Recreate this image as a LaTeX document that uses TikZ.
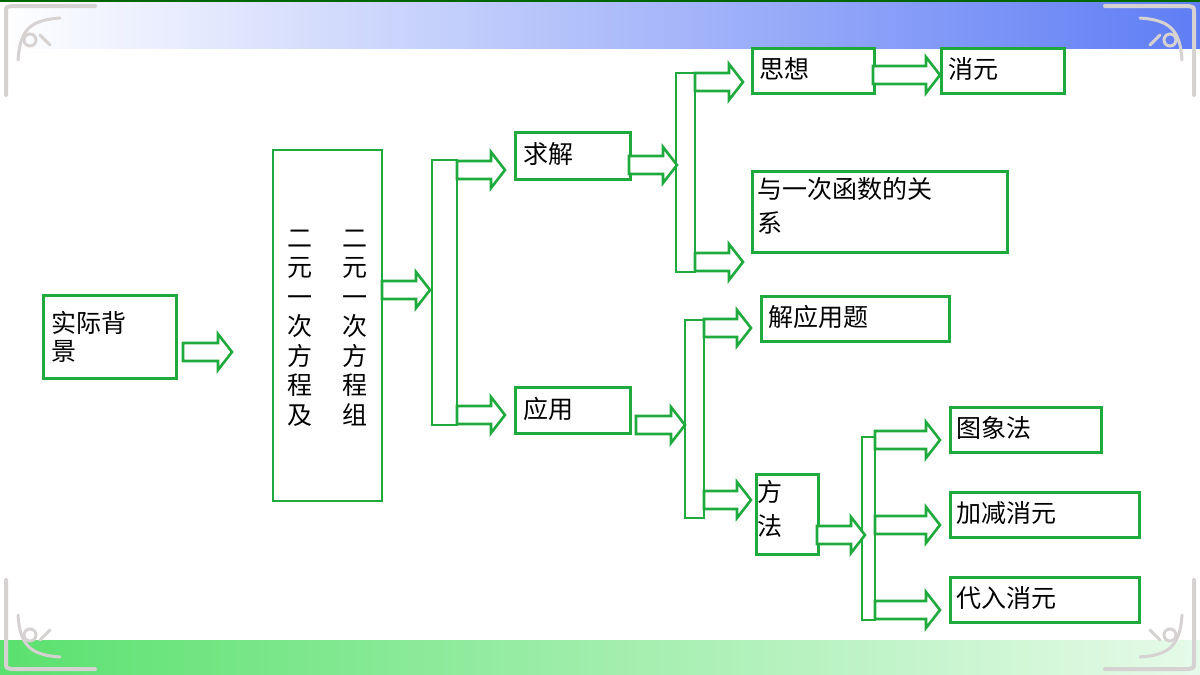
\documentclass[tikz,border=0pt]{standalone}
\usepackage{fontspec}
\setmainfont{Noto Sans CJK SC}
\usetikzlibrary{calc}
\definecolor{boxgreen}{RGB}{30,170,60}
\definecolor{bandblue}{RGB}{95,125,245}
\definecolor{bandgreen}{RGB}{90,225,110}
\definecolor{ornament}{RGB}{215,210,210}
\tikzset{
  box/.style={draw=boxgreen,line width=2.6pt,anchor=north west,inner sep=8pt,
    align=left,font=\fontsize{25}{30}\selectfont},
  txt/.style={font=\fontsize{25}{30}\selectfont,anchor=west},
  bracket/.style={draw=boxgreen,line width=2.6pt},
  orn/.style={draw=ornament,line width=4pt,line cap=round}
}
% hollow block arrow: x1, x2, y
\newcommand{\barrow}[3]{%
  \draw[boxgreen,line width=2.6pt,fill=white]
    (#1,#3-9) -- (#2-14,#3-9) -- (#2-14,#3-18) -- (#2,#3)
    -- (#2-14,#3+18) -- (#2-14,#3+9) -- (#1,#3+9) -- cycle;}
\begin{document}
\begin{tikzpicture}[x=1pt,y=-1pt]
    \useasboundingbox (0,0) rectangle (1200,675);
    % bands
    \shade[left color=white,right color=bandblue] (0,0) rectangle (1200,48);
    \fill[green!40!black] (0,0) rectangle (1200,1.5);
    \shade[left color=bandgreen,right color=bandgreen!15] (0,640) rectangle (1200,675);
    % corner ornaments
    \foreach \sx/\sy/\ox/\oy in {1/1/0/0,-1/1/1200/0,1/-1/0/675,-1/-1/1200/675}{
      \begin{scope}[shift={(\ox,\oy)},xscale=\sx,yscale=\sy]
        \draw[orn] (6,95) -- (6,12) .. controls (6,7) .. (12,6) -- (95,6);
        \draw[orn,line width=3pt] (18,60) .. controls (20,30) and (30,20) .. (60,18);
        \draw[orn,line width=3pt] (30,40) circle (6);
        \draw[orn,line width=3pt] (50,45) -- (40,35);
      \end{scope}}
    % boxes
    \node[box,minimum width=133pt,minimum height=83pt,text width=117pt] (bg) at (42,294) {实际背\\[-2pt]景};
    \draw[bracket] (273,150) rectangle (382,501);
    \node[font=\fontsize{25}{29.5}\selectfont,align=center] (fc) at (300,328)
      {二\\元\\一\\次\\方\\程\\及};
    \node[font=\fontsize{25}{29.5}\selectfont,align=center] (fc2) at (355,328)
      {二\\元\\一\\次\\方\\程\\组};
    \draw[bracket] (432,160) rectangle (457,425);
    \node[box,minimum width=115pt,minimum height=47pt] (qj) at (514,131) {};
    \node[txt] at (520,154) {求解};
    \node[box,minimum width=115pt,minimum height=46pt] (yy) at (514,386) {};
    \node[txt] at (520,409) {应用};
    \draw[bracket] (676,73) rectangle (695,272);
    \node[box,minimum width=122pt,minimum height=45pt] (sx) at (751,47) {};
    \node[txt] at (756,69) {思想};
    \node[box,minimum width=123pt,minimum height=45pt] (xy) at (940,47) {};
    \node[txt] at (945,69) {消元};
    \node[box,minimum width=255pt,minimum height=81pt] (hs) at (751,170) {};
    \node[font=\fontsize{25}{34}\selectfont,anchor=north west,align=left] at (754,174) {与一次函数的关\\系};
    \draw[bracket] (685,320) rectangle (704,518);
    \node[box,minimum width=188pt,minimum height=45pt] (jy) at (760,295) {};
    \node[txt] at (765,317) {解应用题};
    \node[box,minimum width=62pt,minimum height=80pt] (ff) at (755,473) {};
    \node[font=\fontsize{25}{34}\selectfont,anchor=north west,align=left] at (754,477) {方\\法};
    \draw[bracket] (862,437) rectangle (875,620);
    \node[box,minimum width=151pt,minimum height=45pt] (tx) at (949,406) {};
    \node[txt] at (953,428) {图象法};
    \node[box,minimum width=189pt,minimum height=45pt] (jj) at (949,491) {};
    \node[txt] at (953,513) {加减消元};
    \node[box,minimum width=189pt,minimum height=45pt] (dr) at (949,576) {};
    \node[txt] at (953,598) {代入消元};
    % arrows
    \barrow{183}{232}{352}
    \barrow{382}{430}{290}
    \barrow{457}{505}{170}
    \barrow{457}{505}{415}
    \barrow{629}{677}{165}
    \barrow{695}{743}{82}
    \barrow{695}{743}{262}
    \barrow{873}{940}{75}
    \barrow{636}{685}{425}
    \barrow{704}{751}{328}
    \barrow{704}{751}{500}
    \barrow{817}{865}{535}
    \barrow{875}{940}{440}
    \barrow{875}{940}{525}
    \barrow{875}{940}{610}
\end{tikzpicture}
\end{document}
